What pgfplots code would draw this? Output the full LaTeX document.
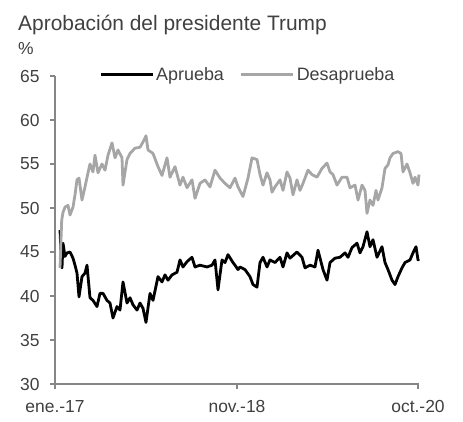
\documentclass[border=0pt]{standalone}
\usepackage{pgfplots}
\pgfplotsset{compat=1.18}
\usepackage{fontspec}
\setmainfont{Liberation Sans}
\definecolor{txt}{HTML}{404040}
\definecolor{axgray}{HTML}{868686}
\definecolor{desap}{HTML}{A6A6A6}
\begin{document}
\begin{tikzpicture}
\useasboundingbox (-55bp,-38bp) rectangle (408bp,384bp);
\begin{axis}[
  at={(0,0)}, anchor=south west,
  scale only axis, width=364bp, height=308bp,
  xmin=0, xmax=364, ymin=30, ymax=65,
  axis x line=bottom, axis y line=left,
  axis line style={-, axgray, line width=1.2bp},
  xtick={0,182,363}, xticklabels={ene.-17,nov.-18,oct.-20},
  ytick={30,35,...,65},
  tick style={axgray, line width=1.2bp},
  major tick length=5bp,
  xtick pos=bottom, ytick pos=left,
  tick align=outside,
  /pgf/number format/assume math mode=true,
  ticklabel style={font=\fontsize{17.5}{20}\selectfont, text=txt},
  yticklabel style={xshift=-7bp},
  xticklabel style={yshift=-8bp},
  clip=false,
  legend style={at={(0.53,1.005)}, anchor=center, draw=none, fill=none,
    font=\fontsize{18}{20}\selectfont, text=txt, legend columns=2,
    /tikz/every even column/.append style={column sep=14bp}},
  legend image code/.code={\draw[#1] (0bp,0bp) -- (52bp,0bp);},
]
\addplot[black, line width=2.8bp, line join=round] coordinates {
(5,47.5)(6,45.0)(7,43.2)(8,46.0)(10,44.5)(12,44.9)(15,45.0)(18,44.3)(20,43.5)(22,42.6)(24,39.9)(27,42.2)(30,42.6)(32,43.5)(35,39.8)(38,39.5)(42,38.8)(45,40.3)(48,40.3)(52,39.5)(55,39.2)(58,37.5)(62,38.8)(65,38.4)(68,41.6)(72,39.2)(75,39.8)(78,39.0)(82,38.4)(85,39.2)(88,38.6)(91,37.0)(95,40.3)(98,39.5)(103,42.2)(107,41.6)(110,42.4)(113,41.8)(117,42.4)(122,42.7)(125,44.1)(128,43.3)(132,43.9)(137,44.4)(140,43.3)(145,43.5)(152,43.3)(157,43.5)(160,44.1)(163,40.7)(167,44.1)(170,43.8)(173,44.7)(178,43.8)(180,43.5)(183,43.0)(185,43.3)(190,43.0)(195,42.2)(198,41.3)(202,41.0)(205,43.8)(208,44.4)(212,43.3)(215,44.1)(220,43.8)(225,44.4)(228,43.3)(232,44.9)(235,44.3)(242,45.0)(247,44.4)(250,43.2)(255,43.5)(260,43.3)(263,45.2)(268,43.0)(272,41.8)(275,43.8)(280,44.3)(285,44.4)(290,44.9)(293,44.4)(297,45.5)(302,46.0)(305,44.9)(308,45.6)(312,47.3)(315,45.6)(318,46.4)(322,44.4)(327,45.6)(330,43.8)(333,43.0)(337,41.8)(340,41.3)(343,42.2)(347,43.2)(350,43.8)(355,44.1)(358,44.9)(361,45.6)(363,44.1)(364,44.2)
};
\addlegendentry{Aprueba}
\addplot[desap, line width=2.8bp, line join=round] coordinates {
(5,43.2)(6.7,48.6)(8,49.5)(10,50.1)(13,50.3)(15,49.2)(18,50.1)(20,51.5)(22,53.2)(24,53.4)(27,50.9)(30,52.4)(33,54.0)(35,55.0)(38,54.1)(40,56.0)(43,54.0)(47,55.0)(50,54.3)(53,56.0)(57,57.4)(60,55.7)(63,56.6)(67,55.7)(68,52.6)(72,55.5)(75,56.2)(80,56.8)(85,56.9)(88,57.5)(91,58.2)(93,56.6)(98,56.2)(103,54.7)(107,53.7)(112,55.7)(115,53.5)(120,54.7)(125,52.6)(128,53.5)(132,52.3)(137,53.2)(140,51.1)(145,52.8)(150,53.2)(155,52.4)(160,54.3)(165,53.4)(170,52.8)(175,52.3)(180,53.4)(183,52.4)(188,51.3)(193,53.4)(197,55.7)(202,55.5)(205,53.8)(208,52.6)(212,54.0)(215,53.2)(217,51.8)(220,52.4)(225,53.2)(228,52.0)(232,54.1)(235,53.4)(238,51.5)(242,53.2)(245,52.0)(248,52.8)(253,54.3)(257,53.8)(262,53.5)(267,54.5)(272,55.1)(275,54.1)(278,53.8)(282,52.6)(287,53.5)(292,53.5)(295,52.3)(300,52.6)(303,50.9)(307,52.6)(310,52.0)(312,49.4)(315,50.9)(318,50.3)(321,52.0)(323,50.9)(327,52.3)(330,54.5)(333,54.9)(335,55.7)(338,56.2)(343,56.4)(346,56.2)(348,54.1)(352,55.0)(355,54.0)(358,52.8)(360,53.5)(363,52.6)(364,53.8)
};
\addlegendentry{Desaprueba}
\end{axis}
\node[anchor=base west, text=txt, font=\fontsize{21}{24}\selectfont, inner sep=0pt] at (-37bp,353bp) {Aprobación del presidente Trump};
\node[anchor=base west, text=txt, font=\fontsize{17.5}{20}\selectfont, inner sep=0pt] at (-37bp,329bp) {\%};
\end{tikzpicture}
\end{document}
